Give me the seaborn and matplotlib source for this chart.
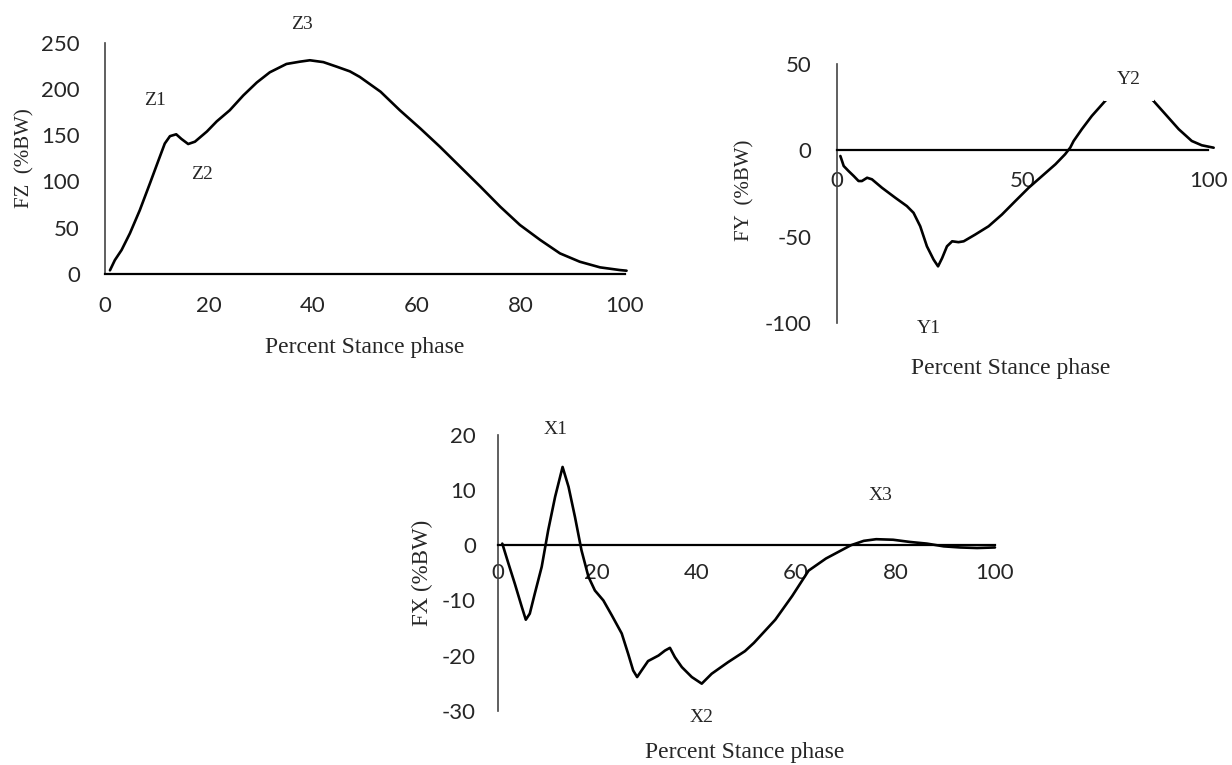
import pandas as pd
import seaborn as sns
import matplotlib.pyplot as plt

# vertical ground reaction force (FZ)
fz_pct = [0.96, 1.9, 3.2, 4.8, 6.7, 8.65, 10.3, 11.5, 12.5, 13.7, 14.7, 16.0, 17.3,
          19.6, 21.5, 24.0, 26.6, 29.2, 31.7, 34.9, 37.5, 39.4, 42.0, 44.6, 47.1,
          49.0, 53.0, 56.7, 60.6, 64.4, 68.3, 72.2, 76.0, 79.8, 83.7, 87.5, 91.3,
          95.2, 99.0, 100.3]
fz_bw = [4, 15, 26, 44, 69, 98, 123, 141, 149, 151, 146, 140.5, 143,
         154, 165, 177, 193, 207, 218, 227, 229.5, 231, 229, 224, 219,
         213, 197, 177, 157.5, 137.6, 116, 94.4, 72.8, 53, 36.8, 22.3, 13.3,
         7.2, 4.3, 3.6]

# anteroposterior force (FY)
fy_pct = [0.9, 1.8, 3.1, 4.5, 5.8, 6.7, 8.1, 9.4, 12.1, 15.7, 18.8, 20.6, 22.4,
          24.2, 26.0, 27.2, 28.3, 29.6, 31.0, 32.7, 34.1, 37.2, 40.8, 44.4, 48.0,
          51.6, 55.2, 58.8, 61.4, 62.8, 63.7, 65.9, 68.6, 72.2, 75.0, 78.7, 82.5,
          85.2, 88.4, 92.0, 95.5, 98.2, 101.4]
fy_bw = [-3.3, -9.1, -12.0, -14.9, -17.8, -17.8, -15.9, -16.8, -21.7, -27.5, -32.3,
         -36.2, -44.0, -55.6, -63.3, -67.2, -62.4, -55.6, -52.7, -53.2, -52.7, -48.8,
         -44.0, -37.2, -29.4, -21.7, -14.9, -8.1, -2.3, 1.6, 5.4, 12.2, 19.9, 28.6,
         34.0, 38.0, 34.0, 28.6, 20.9, 12.2, 5.4, 2.9, 1.5]

# mediolateral force (FX)
fx_pct = [0.87, 2.1, 3.4, 4.8, 5.6, 6.4, 7.4, 8.8, 10.1, 11.5, 13.0, 14.2, 15.5,
          16.8, 18.2, 19.5, 21.2, 22.9, 24.9, 26.2, 27.2, 28.0, 28.9, 30.2, 32.3,
          33.6, 34.6, 35.6, 37.0, 39.0, 41.0, 43.0, 46.3, 49.7, 51.5, 55.8, 59.2,
          62.5, 66.0, 68.5, 71.0, 73.6, 76.1, 79.5, 82.9, 86.3, 89.7, 93.0, 96.4,
          100.0]
fx_bw = [0.3, -3.3, -7.0, -11.2, -13.5, -12.4, -8.8, -3.9, 2.7, 8.8, 14.2, 10.6, 5.1,
         -0.9, -5.7, -8.2, -10.0, -12.7, -16.0, -19.7, -22.7, -23.9, -22.7, -21.0, -20.0,
         -19.1, -18.6, -20.3, -22.1, -23.9, -25.1, -23.3, -21.2, -19.2, -17.7, -13.5, -9.2,
         -4.6, -2.4, -1.2, 0.0, 0.8, 1.1, 1.0, 0.6, 0.3, -0.2, -0.4, -0.5,
         -0.4]

fz_ticks = [0, 50, 100, 150, 200, 250]
fy_ticks = [-100, -50, 0, 50]
fx_ticks = [-30, -20, -10, 0, 10, 20]
pct_ticks_20 = [0, 20, 40, 60, 80, 100]
pct_ticks_50 = [0, 50, 100]

sns.set_theme(style="white")
plt.rcParams["font.family"] = ["Lato", "DejaVu Sans"]
plt.rcParams["axes.unicode_minus"] = False
SERIF = ["Liberation Serif", "DejaVu Serif"]


def draw_force(ax, pct, bw):
    df = pd.DataFrame({"pct": pct, "bw": bw})
    sns.lineplot(data=df, x="pct", y="bw", ax=ax, color="black", lw=1.9,
                 estimator=None, sort=False, clip_on=False,
                 solid_joinstyle="round", solid_capstyle="round")
    for side in ["top", "right"]:
        ax.spines[side].set_visible(False)
    ax.spines["left"].set_color("#444444")
    ax.spines["left"].set_linewidth(1.2)
    ax.spines["bottom"].set_color("black")
    ax.spines["bottom"].set_linewidth(1.6)


def label(ax, x, y, s, **kw):
    ax.text(x, y, s, family=SERIF, fontsize=14, ha="center", va="center",
            clip_on=False, **kw)


fig = plt.figure(figsize=(12.32, 7.65), dpi=100)

# FZ
ax1 = fig.add_axes([0.0852, 0.6418, 0.4221, 0.3024])
draw_force(ax1, fz_pct, fz_bw)
ax1.set_xlim(0, 100)
ax1.set_ylim(0, 250)
ax1.set_xticks(pct_ticks_20)
ax1.set_yticks(fz_ticks)
ax1.tick_params(axis="both", length=0, labelsize=16)
ax1.tick_params(axis="x", pad=16)
ax1.tick_params(axis="y", pad=18)
ax1.set_xlabel("Percent Stance phase", family=SERIF, fontsize=17, va="center")
ax1.set_ylabel("FZ  (%BW)", family=SERIF, fontsize=15, va="center")
ax1.xaxis.set_label_coords(0.5, -0.316)
ax1.yaxis.set_label_coords(-0.155, 0.5)
label(ax1, 9.7, 188, "Z1")
label(ax1, 18.7, 108, "Z2")
label(ax1, 37.8, 270, "Z3")

# FY
ax2 = fig.add_axes([0.6794, 0.5778, 0.3015, 0.3386])
draw_force(ax2, fy_pct, fy_bw)
ax2.spines["bottom"].set_position(("data", 0))
ax2.set_xlim(0, 100)
ax2.set_ylim(-100, 50)
ax2.set_xticks(pct_ticks_50)
ax2.set_yticks(fy_ticks)
ax2.tick_params(axis="both", length=0, labelsize=16)
ax2.tick_params(axis="x", pad=15)
ax2.tick_params(axis="y", pad=18.5)
ax2.set_xlabel("Percent Stance phase", family=SERIF, fontsize=17, va="center")
ax2.set_ylabel("FY  (%BW)", family=SERIF, fontsize=15, va="center")
ax2.xaxis.set_label_coords(0.468, -0.174)
ax2.yaxis.set_label_coords(-0.247, 0.513)
label(ax2, 24.6, -103, "Y1")
label(ax2, 78.6, 41.2, "Y2", zorder=5,
      bbox=dict(boxstyle="square,pad=0.68", fc="white", ec="none"))

# FX
ax3 = fig.add_axes([0.4042, 0.0710, 0.4034, 0.3604])
draw_force(ax3, fx_pct, fx_bw)
ax3.spines["bottom"].set_position(("data", 0))
ax3.set_xlim(0, 100)
ax3.set_ylim(-30, 20)
ax3.set_xticks(pct_ticks_20)
ax3.set_yticks(fx_ticks)
ax3.tick_params(axis="both", length=0, labelsize=16)
ax3.tick_params(axis="x", pad=13)
ax3.tick_params(axis="y", pad=16)
ax3.set_xlabel("Percent Stance phase", family=SERIF, fontsize=17, va="center")
ax3.set_ylabel("FX (%BW)", family=SERIF, fontsize=16.5, va="center")
ax3.xaxis.set_label_coords(0.497, -0.153)
ax3.yaxis.set_label_coords(-0.152, 0.5)
label(ax3, 11.6, 21, "X1")
label(ax3, 40.9, -31.2, "X2")
label(ax3, 77, 9.0, "X3")

fig.savefig("out.png", dpi=100)
